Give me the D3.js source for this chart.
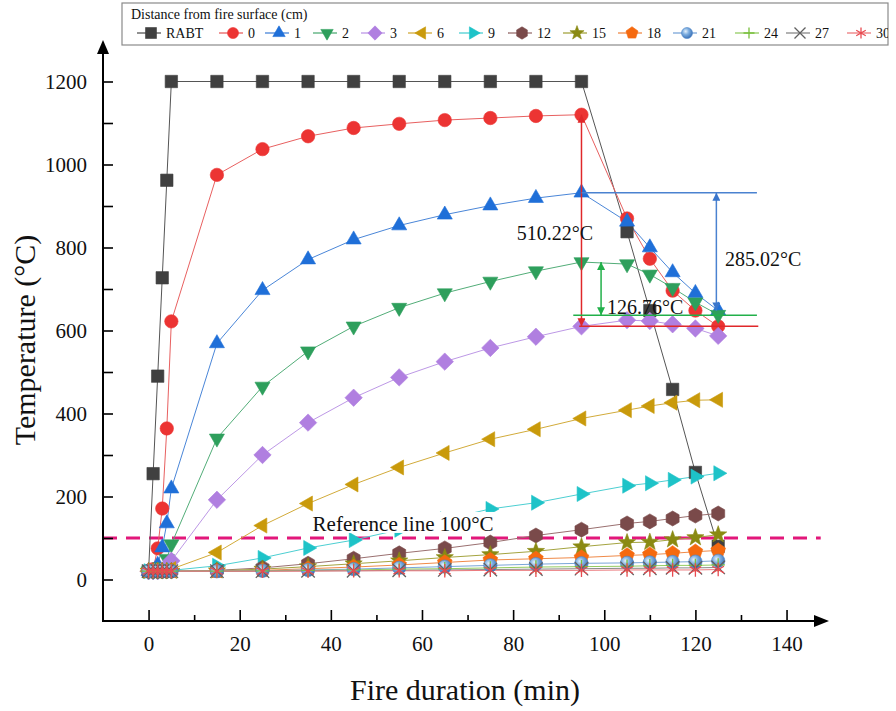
<!DOCTYPE html>
<html>
<head>
<meta charset="utf-8">
<script src="https://cdn.jsdelivr.net/npm/d3@7"></script>
<style>
  html, body { margin: 0; padding: 0; background: #fff; }
  svg text { font-family: "Liberation Serif", "Times New Roman", serif; fill: #111; }
</style>
</head>
<body>
<svg id="chart" width="896" height="711"></svg>
<script>
// temperature vs fire duration at several depths below the fire surface
var times = [0, 1, 2, 3, 4, 5, 15, 25, 35, 45, 55, 65, 75, 85, 95, 105, 110, 115, 120, 125];

var tRABT = [20, 255, 490, 727, 962, 1200, 1200, 1200, 1200, 1200, 1200, 1200, 1200, 1200, 1200, 838, 648, 458, 258, 80];
var t0  = [20, 25, 75, 171, 364, 622, 975, 1037, 1068, 1088, 1098, 1107, 1112, 1117, 1120, 870, 773, 696, 648, 610];
var t1  = [20, 20, 35, 77, 135, 219, 569, 697, 771, 819, 853, 879, 901, 919, 932, 862, 800, 740, 690, 648];
var t2  = [20, 20, 22, 30, 50, 85, 340, 465, 550, 610, 655, 690, 718, 743, 765, 760, 735, 703, 668, 638];
var t3  = [20, 20, 20, 22, 30, 45, 192, 300, 378, 438, 487, 525, 558, 585, 610, 625, 623, 615, 605, 587];
var t6  = [20, 20, 20, 20, 21, 25, 65, 130, 183, 229, 270, 305, 338, 362, 388, 408, 418, 426, 432, 433];
var t9  = [20, 20, 20, 20, 21, 22, 33, 52, 76, 95, 120, 145, 170, 185, 206, 226, 232, 240, 248, 256];
var t12 = [20, 20, 20, 20, 20, 20, 22, 28, 38, 50, 63, 75, 89, 106, 120, 135, 140, 147, 154, 159];
var t15 = [20, 20, 20, 20, 20, 20, 21, 25, 31, 38, 45, 53, 60, 68, 79, 89, 90, 96, 101, 108];
var t18 = [20, 20, 20, 20, 20, 20, 20, 22, 26, 30, 35, 41, 47, 50, 53, 58, 60, 63, 67, 70];
var t21 = [20, 20, 20, 20, 20, 20, 20, 21, 23, 25, 28, 31, 34, 37, 39, 40, 41, 42, 43, 45];
var t24 = [20, 20, 20, 20, 20, 20, 20, 21, 22, 23, 25, 26, 28, 30, 31, 32, 33, 34, 34, 35];
var t27 = [20, 20, 20, 20, 20, 20, 20, 20, 21, 21, 22, 23, 24, 25, 26, 27, 27, 28, 28, 29];
var t30 = [20, 20, 20, 20, 20, 20, 20, 20, 20, 21, 21, 21, 22, 22, 22, 23, 23, 23, 23, 24];

var seriesNames = ['RABT', '0', '1', '2', '3', '6', '9', '12', '15', '18', '21', '24', '27', '30'];
var seriesValues = [tRABT, t0, t1, t2, t3, t6, t9, t12, t15, t18, t21, t24, t27, t30];

var xTicks = [0, 20, 40, 60, 80, 100, 120, 140];
var xMinor = [10, 30, 50, 70, 90, 110, 130];
var yTicks = [0, 200, 400, 600, 800, 1000, 1200];
var yMinor = [100, 300, 500, 700, 900, 1100];

var refValue = 100;
var refLabel = 'Reference line 100\u00B0C';

// annotation values (time, temperature); hAt = level of the horizontal guide
var dropRed   = { x: 95,    top: 1120, bottom: 610, hAt: 610, hFrom: 94.5, hTo: 133.8, label: '510.22\u00B0C', lx: 80.8,  ly: 818 };
var dropBlue  = { x: 124.6, top: 932,  bottom: 648, hAt: 932, hFrom: 95,   hTo: 133.5, label: '285.02\u00B0C', lx: 126.5, ly: 755 };
var dropGreen = { x: 99.3,  top: 765,  bottom: 637, hAt: 637, hFrom: 93.2, hTo: 133.5, label: '126.76\u00B0C', lx: 100.6, ly: 640 };

// styles
var colors = ['#404040', '#ec3433', '#1f6fd8', '#2e9f5c', '#b07fe0', '#c99a0b', '#1ec3c8',
              '#7a4a4a', '#8a8a12', '#f5690f', '#4f86c8', '#78bf3c', '#606060', '#e84a50'];
var lineColors = ['#555', '#e86060', '#4a86d8', '#52ad78', '#bd98e6', '#d2ab3a', '#4ccfd2',
                  '#9a7070', '#a4a440', '#f08a48', '#7aa6d8', '#94cc62', '#888', '#ec7a7e'];
var shapes = ['square', 'circle', 'triUp', 'triDown', 'diamond', 'triLeft', 'triRight',
              'hexagon', 'star', 'pentagon', 'sphere', 'plus', 'cross', 'asterisk'];
var legendX = [151, 233, 279, 327, 375, 422, 473, 522, 577, 632, 687, 749, 800, 861];

var svg = d3.select('#chart');
var defs = svg.append('defs');

var x = d3.scaleLinear().domain([-10, 148]).range([103, 823]);
var y = d3.scaleLinear().domain([-100, 1300]).range([621, 40]);

var grad = defs.append('radialGradient').attr('id', 'sphere')
  .attr('cx', '38%').attr('cy', '35%').attr('r', '65%');
grad.append('stop').attr('offset', '0%').attr('stop-color', '#e4f0fb');
grad.append('stop').attr('offset', '45%').attr('stop-color', '#7eaee0');
grad.append('stop').attr('offset', '100%').attr('stop-color', '#3c73b8');

function poly(n, r, start, inner) {
  var pts = [];
  var k = inner ? n * 2 : n;
  for (var i = 0; i < k; i++) {
    var a = start + i * 2 * Math.PI / k;
    var rr = (inner && i % 2) ? inner : r;
    pts.push([rr * Math.cos(a), rr * Math.sin(a)]);
  }
  return 'M' + pts.map(function(p) { return p[0].toFixed(2) + ',' + p[1].toFixed(2); }).join('L') + 'Z';
}

function symbolPath(type, s) {
  switch (type) {
    case 'square': return 'M' + -s + ',' + -s + 'H' + s + 'V' + s + 'H' + -s + 'Z';
    case 'circle':
    case 'sphere': return 'M' + s + ',0A' + s + ',' + s + ' 0 1 1 ' + -s + ',0A' + s + ',' + s + ' 0 1 1 ' + s + ',0Z';
    case 'triUp': return poly(3, s * 1.3, -Math.PI / 2);
    case 'triDown': return poly(3, s * 1.3, Math.PI / 2);
    case 'triLeft': return poly(3, s * 1.3, Math.PI);
    case 'triRight': return poly(3, s * 1.3, 0);
    case 'diamond': return poly(4, s * 1.3, -Math.PI / 2);
    case 'hexagon': return poly(6, s * 1.12, -Math.PI / 2);
    case 'pentagon': return poly(5, s * 1.15, -Math.PI / 2);
    case 'star': return poly(5, s * 1.35, -Math.PI / 2, s * 0.55);
    case 'plus': return 'M' + -s + ',0H' + s + 'M0,' + -s + 'V' + s;
    case 'cross': return 'M' + -s + ',' + -s + 'L' + s + ',' + s + 'M' + -s + ',' + s + 'L' + s + ',' + -s;
    case 'asterisk':
      var c = s * 0.866, h = s * 0.5;
      return 'M0,' + -s + 'V' + s + 'M' + -c + ',' + -h + 'L' + c + ',' + h + 'M' + -c + ',' + h + 'L' + c + ',' + -h;
  }
}

function drawSymbol(g, i, s) {
  var open = shapes[i] === 'plus' || shapes[i] === 'cross' || shapes[i] === 'asterisk';
  return g.append('path')
    .attr('d', symbolPath(shapes[i], s))
    .attr('fill', open ? 'none' : (shapes[i] === 'sphere' ? 'url(#sphere)' : colors[i]))
    .attr('stroke', colors[i])
    .attr('stroke-width', open ? 1.3 : 0.6);
}

// reference line
svg.append('line')
  .attr('x1', x(-10)).attr('x2', x(147.5))
  .attr('y1', y(refValue)).attr('y2', y(refValue))
  .attr('stroke', '#e2177a').attr('stroke-width', 3)
  .attr('stroke-dasharray', '14,9');

// series
var line = d3.line()
  .x(function(d, i) { return x(times[i]); })
  .y(function(d) { return y(d); });

seriesValues.forEach(function(vals, i) {
  svg.append('path')
    .datum(vals)
    .attr('d', line)
    .attr('fill', 'none')
    .attr('stroke', lineColors[i])
    .attr('stroke-width', 1);
});
seriesValues.forEach(function(vals, i) {
  var g = svg.append('g');
  vals.forEach(function(v, j) {
    var m = g.append('g').attr('transform', 'translate(' + x(times[j]) + ',' + y(v) + ')');
    drawSymbol(m, i, i === 0 ? 6.2 : 6.7);
  });
});

// annotation arrows
function arrowMarker(id, c) {
  defs.append('marker').attr('id', id)
    .attr('viewBox', '0 0 10 10').attr('refX', 10).attr('refY', 5)
    .attr('markerWidth', 9).attr('markerHeight', 8)
    .attr('markerUnits', 'userSpaceOnUse')
    .attr('orient', 'auto-start-reverse')
    .append('path').attr('d', 'M0,0L10,5L0,10Z').attr('fill', c);
}
arrowMarker('arRed', '#e0282a');
arrowMarker('arBlue', '#3a76cc');
arrowMarker('arGreen', '#22b04a');

[[dropRed, '#e0282a', 'arRed'], [dropBlue, '#4a82d0', 'arBlue'], [dropGreen, '#22b04a', 'arGreen']].forEach(function(a) {
  var d = a[0];
  svg.append('line')
    .attr('x1', x(d.hFrom)).attr('x2', x(d.hTo))
    .attr('y1', y(d.hAt)).attr('y2', y(d.hAt))
    .attr('stroke', a[1]).attr('stroke-width', 1.5);
  svg.append('line')
    .attr('x1', x(d.x)).attr('x2', x(d.x))
    .attr('y1', y(d.top)).attr('y2', y(d.bottom))
    .attr('stroke', a[1]).attr('stroke-width', 1.5)
    .attr('marker-start', 'url(#' + a[2] + ')')
    .attr('marker-end', 'url(#' + a[2] + ')');
  svg.append('text')
    .attr('x', x(d.lx)).attr('y', y(d.ly))
    .style('font-size', '20px')
    .text(d.label);
});

// reference label with white backing
var refText = svg.append('text')
  .attr('x', x(36)).attr('y', y(117))
  .style('font-size', '21px')
  .text(refLabel);
var bb = refText.node().getBBox();
svg.insert('rect', function() { return refText.node(); })
  .attr('x', bb.x - 2).attr('y', bb.y)
  .attr('width', bb.width + 4).attr('height', bb.height - 3)
  .attr('fill', '#fff');

// axes
svg.append('g').attr('transform', 'translate(0,' + y(-100) + ')')
  .call(d3.axisBottom(x).tickValues(xTicks).tickSize(-11).tickPadding(15).tickFormat(d3.format('d')));
svg.append('g').attr('transform', 'translate(0,' + y(-100) + ')')
  .call(d3.axisBottom(x).tickValues(xMinor).tickSize(-6).tickFormat(''));
svg.append('g').attr('transform', 'translate(' + x(-10) + ',0)')
  .call(d3.axisLeft(y).tickValues(yTicks).tickSize(-10).tickPadding(16).tickFormat(d3.format('d')));
svg.append('g').attr('transform', 'translate(' + x(-10) + ',0)')
  .call(d3.axisLeft(y).tickValues(yMinor).tickSize(-10).tickFormat(''));

svg.selectAll('.domain').remove();
svg.selectAll('.tick line').attr('stroke', '#000').attr('stroke-width', 1.6);
svg.selectAll('.tick text')
  .style('font-family', '"Liberation Serif", serif')
  .style('font-size', '21px').attr('fill', '#111');

// axis lines with arrowheads
svg.append('line')
  .attr('x1', x(-10) - 1).attr('x2', 816)
  .attr('y1', y(-100)).attr('y2', y(-100))
  .attr('stroke', '#000').attr('stroke-width', 2);
svg.append('path').attr('d', 'M814,' + (y(-100) - 6) + 'L829,' + y(-100) + 'L814,' + (y(-100) + 6) + 'Z');
svg.append('line')
  .attr('x1', x(-10)).attr('x2', x(-10))
  .attr('y1', y(-100) + 1).attr('y2', 52)
  .attr('stroke', '#000').attr('stroke-width', 2);
svg.append('path').attr('d', 'M' + (x(-10) - 6) + ',54L' + x(-10) + ',40L' + (x(-10) + 6) + ',54Z');

// axis titles
svg.append('text')
  .attr('x', 465).attr('y', 700)
  .attr('text-anchor', 'middle')
  .style('font-size', '30px')
  .text('Fire duration (min)');
svg.append('text')
  .attr('transform', 'translate(35,340) rotate(-90)')
  .attr('text-anchor', 'middle')
  .style('font-size', '30px')
  .text('Temperature  (\u00B0C)');

// legend
var leg = svg.append('g');
defs.append('clipPath').attr('id', 'legClip')
  .append('rect').attr('x', 122).attr('y', 3).attr('width', 766).attr('height', 42);
leg.append('rect')
  .attr('x', 122).attr('y', 3).attr('width', 766).attr('height', 42)
  .attr('fill', '#fff').attr('stroke', '#8a8a8a').attr('stroke-width', 1.2);
var legIn = leg.append('g').attr('clip-path', 'url(#legClip)');
legIn.append('text')
  .attr('x', 131).attr('y', 19)
  .style('font-size', '14px')
  .text('Distance from fire surface  (cm)');
seriesNames.forEach(function(name, i) {
  var cx = legendX[i];
  legIn.append('line')
    .attr('x1', cx - 14).attr('x2', cx + 10)
    .attr('y1', 33).attr('y2', 33)
    .attr('stroke', lineColors[i]).attr('stroke-width', 1.3);
  var m = legIn.append('g').attr('transform', 'translate(' + cx + ',33)');
  drawSymbol(m, i, 5.5);
  legIn.append('text')
    .attr('x', cx + 15).attr('y', 38)
    .style('font-size', '14px')
    .text(name);
});
</script>
</body>
</html>
